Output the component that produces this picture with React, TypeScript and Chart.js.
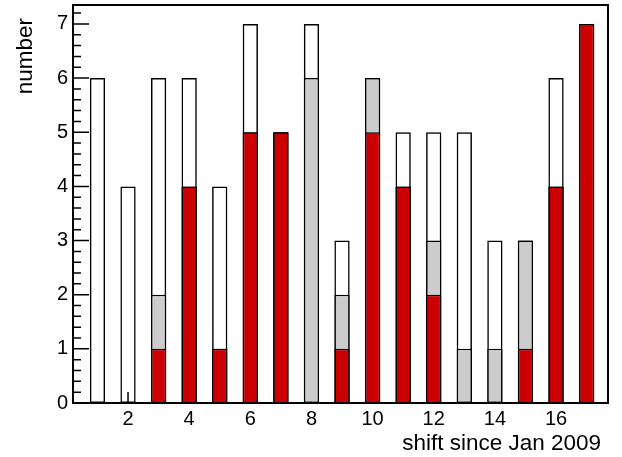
import { useEffect, useRef } from "react";
import { Chart, registerables } from "chart.js";

Chart.register(...registerables);

const SHIFTS = [1, 2, 3, 4, 5, 6, 7, 8, 9, 10, 11, 12, 13, 14, 15, 16, 17];
const TOTAL = [6, 4, 6, 6, 4, 7, 5, 7, 3, 6, 5, 5, 5, 3, 3, 6, 7];
const GRAY = [0, 0, 2, 4, 1, 5, 5, 6, 2, 6, 4, 3, 1, 1, 3, 4, 7];
const RED = [0, 0, 1, 4, 1, 5, 5, 0, 1, 5, 4, 2, 0, 0, 1, 4, 7];
const X_TICKS = [2, 4, 6, 8, 10, 12, 14, 16];
const Y_TICKS = [0, 1, 2, 3, 4, 5, 6, 7];
const X_TITLE = "shift since Jan 2009";
const Y_TITLE = "number";

const FONT = '"Liberation Sans", Arial, Helvetica, sans-serif';

const rootAxes = {
  id: "rootAxes",
  beforeDatasetsDraw(chart: any) {
    const { ctx, chartArea: a, scales } = chart;
    const x = scales.x;
    const y = scales.y;
    ctx.save();
    ctx.strokeStyle = "#000";
    ctx.lineWidth = 1.5;
    ctx.beginPath();
    for (let i = 0; i * 0.2 <= y.max + 1e-9; i++) {
      const v = i * 0.2;
      const py = y.getPixelForValue(v);
      const len = i % 5 === 0 ? 16 : 8;
      ctx.moveTo(a.left, py);
      ctx.lineTo(a.left + len, py);
    }
    for (const t of X_TICKS) {
      const px = x.getPixelForValue(t);
      ctx.moveTo(px, a.bottom);
      ctx.lineTo(px, a.bottom - 11);
    }
    ctx.stroke();
    ctx.restore();
  },
  afterDatasetsDraw(chart: any) {
    const { ctx, chartArea: a } = chart;
    ctx.save();
    ctx.strokeStyle = "#000";
    ctx.lineWidth = 2;
    ctx.strokeRect(a.left, a.top, a.right - a.left, a.bottom - a.top);
    ctx.restore();
  },
  afterDraw(chart: any) {
    const { ctx } = chart;
    ctx.save();
    ctx.fillStyle = "#000";
    ctx.font = `22.5px ${FONT}`;
    ctx.textAlign = "right";
    ctx.textBaseline = "alphabetic";
    ctx.fillText(X_TITLE, 601, 450);
    ctx.translate(32, 18);
    ctx.rotate(-Math.PI / 2);
    ctx.fillText(Y_TITLE, 0, 0);
    ctx.restore();
  },
};

const zeroPad = (s: any) => {
  s.paddingTop = 0;
  s.paddingBottom = 0;
  s.paddingLeft = 0;
  s.paddingRight = 0;
};

export default function App() {
  const ref = useRef<HTMLCanvasElement | null>(null);

  useEffect(() => {
    document.body.style.margin = "0";
    const canvas = ref.current;
    if (!canvas) return;
    const mk = (arr: number[]) => SHIFTS.map((s, i) => ({ x: s, y: arr[i] }));
    const common = {
      grouped: false,
      categoryPercentage: 1,
      barPercentage: 0.5,
      borderColor: "#000",
      borderSkipped: false as const,
    };
    const chart = new Chart(canvas, {
      type: "bar",
      data: {
        datasets: [
          { ...common, label: "red", data: mk(RED), backgroundColor: "#cc0000", borderWidth: 1.5 },
          { ...common, label: "gray", data: mk(GRAY), backgroundColor: "#cccccc", borderWidth: 1.5 },
          { ...common, label: "total", data: mk(TOTAL), backgroundColor: "rgba(0,0,0,0)", borderWidth: 1.5 },
        ],
      },
      options: {
        animation: false,
        responsive: false,
        maintainAspectRatio: false,
        devicePixelRatio: 1,
        layout: { autoPadding: false, padding: { top: 5, right: 14, left: 0, bottom: 0 } },
        plugins: { legend: { display: false }, tooltip: { enabled: false }, title: { display: false } },
        scales: {
          x: {
            type: "linear",
            offset: false,
            min: 0.2,
            max: 17.7,
            grid: { display: false, drawTicks: false, offset: false },
            border: { display: false },
            afterBuildTicks: (s: any) => {
              s.ticks = X_TICKS.map((v) => ({ value: v }));
            },
            afterFit: (s: any) => {
              s.height = 54;
              zeroPad(s);
            },
            ticks: {
              autoSkip: false,
              maxRotation: 0,
              padding: 4,
              color: "#000",
              font: { family: FONT, size: 20 },
              callback: (v: any) => String(v),
            },
          },
          y: {
            type: "linear",
            min: 0,
            max: 7.35,
            grid: { display: false, drawTicks: false },
            border: { display: false },
            afterBuildTicks: (s: any) => {
              s.ticks = Y_TICKS.map((v) => ({ value: v }));
            },
            afterFit: (s: any) => {
              s.width = 73;
              zeroPad(s);
            },
            ticks: {
              autoSkip: false,
              padding: 5,
              color: "#000",
              font: { family: FONT, size: 20 },
              callback: (v: any) => String(v),
            },
          },
        },
      },
      plugins: [rootAxes],
    });
    return () => chart.destroy();
  }, []);

  return (
    <div style={{ width: 622, height: 457 }}>
      <canvas ref={ref} width={622} height={457} />
    </div>
  );
}
